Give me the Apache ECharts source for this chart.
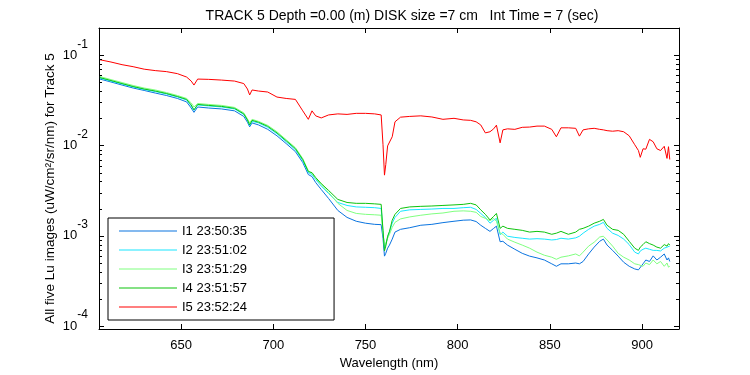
<!DOCTYPE html>
<html>
<head>
<meta charset="utf-8">
<script src="https://cdn.jsdelivr.net/npm/echarts@6/dist/echarts.min.js"></script>
<style>html,body{margin:0;padding:0;background:#fff;}#c{width:750px;height:375px;}</style>
</head>
<body>
<div id="c"></div>
<script>
// ---- data ----
var wavelengths = [606,612,618,624,630,636,642,648,653,655.5,657,659,665,672,679,684,686,687.2,688.5,692,697,702,707,712,716,719,721,723,726,730,735,740,745,750,755,758.5,759.5,760.3,761,762,763,764.5,766,769,774,780,786,792,798,803,807,810,812.5,815,817.5,819.5,821,823,824.5,827,831,835,839,843,847,851,853.5,856,860,864,866,868,871,874,877,879,881,884,887,890,893,896,898,899,900.5,902,904,906,908,910,912,913.5,914.3,915];

var I1 = [0.0544,0.0505,0.0467,0.0433,0.0407,0.0381,0.0358,0.0332,0.0304,0.026,0.0233,0.0267,0.026,0.0254,0.0242,0.021,0.0181,0.0161,0.0178,0.0169,0.0151,0.0128,0.0105,0.00855,0.00647,0.00477,0.00453,0.00389,0.00326,0.00259,0.00191,0.0016,0.00145,0.00138,0.00134,0.00133,0.00094,0.000596,0.00064,0.00073,0.00079,0.00092,0.0011,0.00118,0.00123,0.00131,0.00134,0.0014,0.00145,0.00149,0.0015,0.00144,0.00131,0.00121,0.00112,0.00121,0.00128,0.00086,0.00087,0.00079,0.00071,0.00064,0.000596,0.00057,0.00054,0.00049,0.00046,0.00049,0.00049,0.0005,0.00049,0.00052,0.00063,0.00075,0.00087,0.00092,0.00079,0.00069,0.000596,0.00051,0.00046,0.00043,0.00042,0.00044,0.00049,0.00054,0.00052,0.0006,0.00054,0.00058,0.00063,0.00054,0.00057,0.00052];

var I2 = [0.0558,0.0517,0.048,0.0445,0.0417,0.0396,0.0372,0.0345,0.0319,0.0274,0.0245,0.0281,0.0274,0.0267,0.0254,0.0221,0.019,0.0167,0.0185,0.0178,0.0159,0.0135,0.011,0.009,0.0068,0.00501,0.00477,0.0042,0.00356,0.00294,0.00234,0.00217,0.00209,0.00207,0.00205,0.00201,0.0011,0.00073,0.0008,0.00096,0.0011,0.00138,0.0016,0.00187,0.00194,0.00196,0.00198,0.00201,0.00201,0.00205,0.00207,0.00196,0.00177,0.0016,0.00138,0.00149,0.00156,0.00103,0.0011,0.00099,0.00096,0.00094,0.00092,0.00093,0.00092,0.0009,0.00091,0.00094,0.00092,0.00095,0.00099,0.00107,0.00118,0.00128,0.00134,0.00141,0.00121,0.00107,0.00101,0.00092,0.0008,0.00066,0.00063,0.00068,0.00071,0.00073,0.00071,0.00069,0.00069,0.00068,0.00073,0.00075,0.00077,0.00077];

var I3 = [0.058,0.0537,0.0498,0.0462,0.0433,0.0412,0.0386,0.0358,0.0332,0.0296,0.0267,0.0292,0.0285,0.0278,0.0264,0.023,0.0197,0.0178,0.0195,0.0185,0.0167,0.0142,0.0116,0.00946,0.00716,0.00527,0.0049,0.00431,0.0037,0.00302,0.00229,0.00191,0.00177,0.00173,0.00171,0.00169,0.00107,0.00077,0.00083,0.00094,0.00104,0.00124,0.00141,0.00154,0.00162,0.00169,0.00175,0.00179,0.00187,0.00189,0.00187,0.00182,0.00164,0.00156,0.00147,0.00156,0.00145,0.00107,0.00104,0.00092,0.00085,0.00079,0.00073,0.00066,0.00061,0.00058,0.00055,0.00058,0.0006,0.00063,0.0006,0.00066,0.00077,0.00085,0.00097,0.00099,0.0009,0.00077,0.00064,0.00058,0.00054,0.00049,0.00048,0.00049,0.00046,0.0005,0.00048,0.00054,0.00049,0.00052,0.00046,0.0005,0.00045,0.00046];

var I4 = [0.0565,0.0524,0.0485,0.045,0.0422,0.0401,0.0377,0.0349,0.0324,0.0281,0.0248,0.0285,0.0278,0.0271,0.0258,0.0224,0.0192,0.0169,0.019,0.0181,0.0163,0.0138,0.0113,0.00923,0.00698,0.00514,0.00501,0.00442,0.00379,0.00318,0.00253,0.00234,0.00229,0.00229,0.00226,0.00223,0.00115,0.00068,0.00077,0.00099,0.00112,0.00149,0.00173,0.00201,0.00209,0.00212,0.00214,0.00217,0.0022,0.00223,0.00229,0.0022,0.00194,0.00173,0.0015,0.00164,0.00177,0.00121,0.00128,0.00121,0.00118,0.00115,0.0011,0.00112,0.0011,0.00104,0.00107,0.00112,0.00104,0.0011,0.00118,0.00121,0.00128,0.00138,0.00145,0.00152,0.00131,0.00118,0.00115,0.00104,0.00087,0.00073,0.00069,0.00075,0.0008,0.00086,0.00082,0.00079,0.00075,0.00073,0.0008,0.00077,0.00082,0.00079];

var I5 = [0.089,0.084,0.0785,0.0746,0.070,0.0675,0.0658,0.0625,0.0573,0.0517,0.0467,0.0544,0.054,0.053,0.0517,0.0485,0.0422,0.0363,0.0412,0.0401,0.0391,0.0344,0.0332,0.0324,0.0242,0.0195,0.0242,0.0213,0.0202,0.0218,0.0224,0.0221,0.0227,0.0227,0.0224,0.0218,0.0102,0.0047,0.00615,0.0099,0.0097,0.0125,0.0183,0.0206,0.021,0.0213,0.0207,0.0195,0.020,0.0192,0.019,0.0183,0.0169,0.0138,0.0142,0.0153,0.0168,0.0107,0.0149,0.0153,0.0151,0.0159,0.016,0.0164,0.0164,0.0151,0.0125,0.0157,0.0157,0.0155,0.0127,0.0149,0.0153,0.0155,0.0151,0.0149,0.0146,0.0144,0.0146,0.0142,0.0128,0.0102,0.0088,0.0074,0.0092,0.0091,0.0117,0.011,0.0092,0.0088,0.0098,0.0072,0.0097,0.007];

var seriesNames = ['I1 23:50:35','I2 23:51:02','I3 23:51:29','I4 23:51:57','I5 23:52:24'];
var seriesColors = ['#0a74e0','#19e6ff','#80ff80','#0dc40d','#ff0000'];
var yMinorTicks = [2e-4,3e-4,4e-4,5e-4,6e-4,7e-4,8e-4,9e-4,2e-3,3e-3,4e-3,5e-3,6e-3,7e-3,8e-3,9e-3,2e-2,3e-2,4e-2,5e-2,6e-2,7e-2,8e-2,9e-2];

var X_MIN = 605.5, X_MAX = 920, Y_MIN = 9.3e-5, Y_MAX = 0.2;
var FONT = 'Liberation Sans, Arial, sans-serif';

function zip(xs, ys){ return xs.map(function(x,i){ return [x, ys[i]]; }); }
var allSeries = [I1, I2, I3, I4, I5];

var series = allSeries.map(function(d, i){
  return {
    name: seriesNames[i], type: 'line', data: zip(wavelengths, d),
    xAxisIndex: 0, yAxisIndex: 0,
    symbol: 'none', lineStyle: {width: 1, color: seriesColors[i]},
    itemStyle: {color: seriesColors[i]}, animation: false, z: 2 + i
  };
});

series.push({
  type: 'custom', name: 'minorTicks', silent: true, z: 20,
  xAxisIndex: 0, yAxisIndex: 0,
  data: yMinorTicks.map(function(v){ return [X_MIN, v]; }),
  renderItem: function(params, api){
    var v = api.value(1);
    var pl = api.coord([X_MIN, v]);
    var pr = api.coord([X_MAX, v]);
    var yl = Math.round(pl[1]) + 0.5;
    return {type: 'group', children: [
      {type: 'line', shape: {x1: pl[0], y1: yl, x2: pl[0] + 3, y2: yl}, style: {stroke: '#000', lineWidth: 1}},
      {type: 'line', shape: {x1: pr[0] - 3, y1: yl, x2: pr[0], y2: yl}, style: {stroke: '#000', lineWidth: 1}}
    ]};
  },
  animation: false
});

var yLabelFormatter = function(v){
  var e = Math.round(Math.log(v) / Math.LN10);
  return '{b|10}{s|' + e + '}';
};

var chart = echarts.init(document.getElementById('c'), null, {renderer: 'canvas'});
chart.setOption({
  backgroundColor: '#ffffff',
  animation: false,
  textStyle: {fontFamily: FONT},
  title: {
    text: 'TRACK 5 Depth =0.00 (m) DISK size =7 cm   Int Time = 7 (sec)',
    left: 397, top: 4, textAlign: 'center',
    textStyle: {fontSize: 14, fontWeight: 'normal', color: '#000', fontFamily: FONT}
  },
  legend: {
    data: seriesNames, orient: 'vertical', left: 108, top: 218,
    icon: 'rect', itemWidth: 58, itemHeight: 1, itemGap: 5,
    padding: [6, 87, 6, 11],
    borderColor: '#000', borderWidth: 1, backgroundColor: '#fff',
    textStyle: {fontSize: 13, lineHeight: 14, color: '#000', fontFamily: FONT},
    z: 30
  },
  grid: {left: 99, right: 71, top: 28, bottom: 44, containLabel: false},
  xAxis: [{
    type: 'value', min: X_MIN, max: X_MAX, position: 'bottom',
    name: 'Wavelength (nm)', nameLocation: 'middle', nameGap: 28,
    nameTextStyle: {fontSize: 13, color: '#000', fontFamily: FONT},
    axisLine: {lineStyle: {color: '#000', width: 1}},
    axisTick: {inside: true, length: 5, lineStyle: {color: '#000'}},
    axisLabel: {color: '#000', fontSize: 13, margin: 10, showMinLabel: false, showMaxLabel: false, fontFamily: FONT},
    splitLine: {show: false}
  }, {
    type: 'value', min: X_MIN, max: X_MAX, position: 'top',
    axisLine: {lineStyle: {color: '#000', width: 1}},
    axisTick: {inside: true, length: 5, lineStyle: {color: '#000'}},
    axisLabel: {show: false}, splitLine: {show: false}
  }],
  yAxis: [{
    type: 'log', logBase: 10, min: Y_MIN, max: Y_MAX, position: 'left',
    name: 'All five Lu images (uW/cm\u00b2/sr/nm) for Track 5',
    nameLocation: 'middle', nameGap: 42, nameRotate: 90, nameMoveOverlap: false,
    nameTextStyle: {fontSize: 13.5, color: '#000', fontFamily: FONT, padding: [0, 20, 0, 0]},
    axisLine: {show: true, lineStyle: {color: '#000', width: 1}},
    axisTick: {inside: true, length: 5, lineStyle: {color: '#000'}},
    axisLabel: {
      color: '#000', margin: 11, showMinLabel: false, showMaxLabel: false,
      formatter: yLabelFormatter,
      rich: {
        b: {fontSize: 13, lineHeight: 34, color: '#000', fontFamily: FONT},
        s: {fontSize: 12, lineHeight: 12, verticalAlign: 'top', color: '#000', fontFamily: FONT}
      }
    },
    splitLine: {show: false}
  }, {
    type: 'log', logBase: 10, min: Y_MIN, max: Y_MAX, position: 'right',
    axisLine: {show: true, lineStyle: {color: '#000', width: 1}},
    axisTick: {inside: true, length: 5, lineStyle: {color: '#000'}},
    axisLabel: {show: false}, splitLine: {show: false}
  }],
  series: series
});
</script>
</body>
</html>
